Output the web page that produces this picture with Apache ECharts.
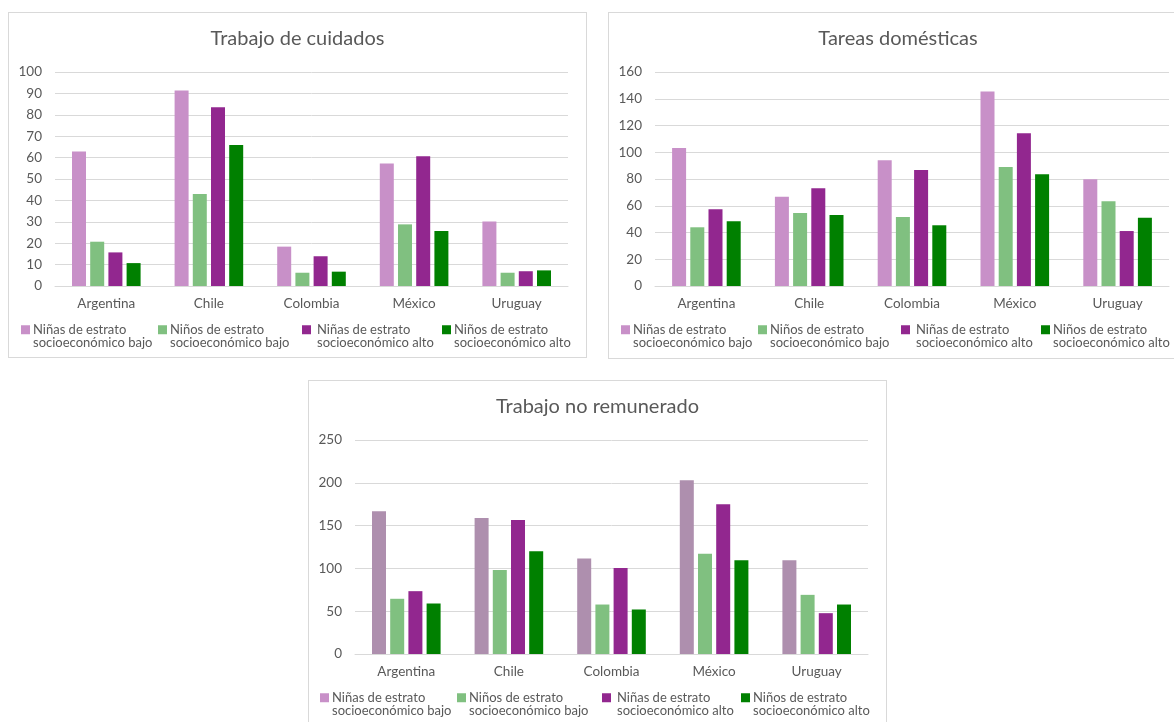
<!DOCTYPE html>
<html>
<head>
<meta charset="utf-8">
<script src="https://cdn.jsdelivr.net/npm/echarts@6/dist/echarts.min.js"></script>
<style>
html, body { margin: 0; padding: 0; background: #fff; width: 1174px; height: 722px; overflow: hidden; }
.panel { position: absolute; border: 1px solid #d9d9d9; box-sizing: border-box; background: #fff; }
#c1 { left: 8px; top: 12px; width: 579px; height: 346px; }
#c2 { left: 608px; top: 12px; width: 580px; height: 347px; }
#c3 { left: 308px; top: 380px; width: 579px; height: 360px; }
</style>
</head>
<body>
<div id="c1" class="panel"></div>
<div id="c2" class="panel"></div>
<div id="c3" class="panel"></div>
<script>
// categorías y series
var paises = ['Argentina', 'Chile', 'Colombia', 'México', 'Uruguay']
var nombres = [
  'Niñas de estrato\nsocioeconómico bajo',
  'Niños de estrato\nsocioeconómico bajo',
  'Niñas de estrato\nsocioeconómico alto',
  'Niños de estrato\nsocioeconómico alto'
]

// Trabajo de cuidados
var cuidadosNinasBajo = [62.9, 91.4, 18.4, 57.3, 30.1]
var cuidadosNinosBajo = [20.7, 43, 6.2, 28.8, 6.2]
var cuidadosNinasAlto = [15.7, 83.5, 13.9, 60.6, 6.9]
var cuidadosNinosAlto = [10.7, 65.9, 6.7, 25.7, 7.3]

// Tareas domésticas
var domesticasNinasBajo = [103.2, 66.8, 94, 145.4, 79.8]
var domesticasNinosBajo = [43.9, 54.6, 51.6, 89, 63.3]
var domesticasNinasAlto = [57.4, 73, 86.8, 114.2, 41.1]
var domesticasNinosAlto = [48.4, 53.1, 45.4, 83.5, 51.1]

// Trabajo no remunerado
var noRemNinasBajo = [166.8, 159, 111.7, 203, 109.4]
var noRemNinosBajo = [64.5, 98, 57.8, 117.2, 69.1]
var noRemNinasAlto = [73.4, 156.6, 100.4, 175, 47.7]
var noRemNinosAlto = [59, 120, 52, 109.4, 57.8]

var colores = ['#c890c8', '#80c080', '#92278f', '#008000']
var fuente = 'Lato'
// cuadrado arriba, punto invisible abajo: el icono queda alineado con la primera línea
var iconoLeyenda = 'path://M0,0L9,0L9,9L0,9Z M0,22.5'

function draw (el, titulo, max, interval, datos, colorBarras, legendX) {
  var chart = echarts.init(document.getElementById(el))
  // una leyenda por serie para fijar su posición
  var legends = nombres.map(function (n, i) {
    return {
      data: [{ name: n, itemStyle: { color: colores[i] } }],
      left: legendX[i],
      top: 310,
      padding: 0,
      icon: iconoLeyenda,
      itemWidth: 9,
      itemHeight: 22.5,
      itemGap: 0,
      selectedMode: false,
      align: 'left',
      textStyle: { color: '#595959', fontSize: 13, fontFamily: fuente, lineHeight: 13.5, padding: [0, 0, 0, i === 2 ? 1 : -2] }
    }
  })
  chart.setOption({
    animation: false,
    title: {
      text: titulo,
      left: 'center',
      top: 11,
      textStyle: { color: '#595959', fontSize: 20, fontWeight: 'normal', fontFamily: fuente }
    },
    legend: legends,
    grid: { left: 46, right: 18, top: 59, height: 214 },
    xAxis: {
      type: 'category',
      data: paises,
      axisLine: { lineStyle: { color: '#d9d9d9' } },
      axisTick: { show: false },
      axisLabel: { color: '#595959', fontSize: 13.5, fontFamily: fuente, margin: 11 }
    },
    yAxis: {
      type: 'value',
      min: 0,
      max: max,
      interval: interval,
      axisLine: { show: false },
      axisTick: { show: false },
      axisLabel: { color: '#595959', fontSize: 13.5, fontFamily: fuente, margin: 13 },
      splitLine: { lineStyle: { color: '#d9d9d9' } }
    },
    series: datos.map(function (d, i) {
      return {
        name: nombres[i],
        type: 'bar',
        data: d,
        barWidth: 14,
        barGap: '30%',
        itemStyle: { color: colorBarras[i] }
      }
    })
  })
}

draw('c1', 'Trabajo de cuidados', 100, 10,
  [cuidadosNinasBajo, cuidadosNinosBajo, cuidadosNinasAlto, cuidadosNinosAlto],
  colores, [12, 149, 293, 433])
draw('c2', 'Tareas domésticas', 160, 20,
  [domesticasNinasBajo, domesticasNinosBajo, domesticasNinasAlto, domesticasNinosAlto],
  colores, [12, 149, 292, 432])
draw('c3', 'Trabajo no remunerado', 250, 50,
  [noRemNinasBajo, noRemNinosBajo, noRemNinasAlto, noRemNinosAlto],
  ['#ae8fae', '#80c080', '#92278f', '#008000'], [11, 148, 293, 432])
</script>
</body>
</html>
